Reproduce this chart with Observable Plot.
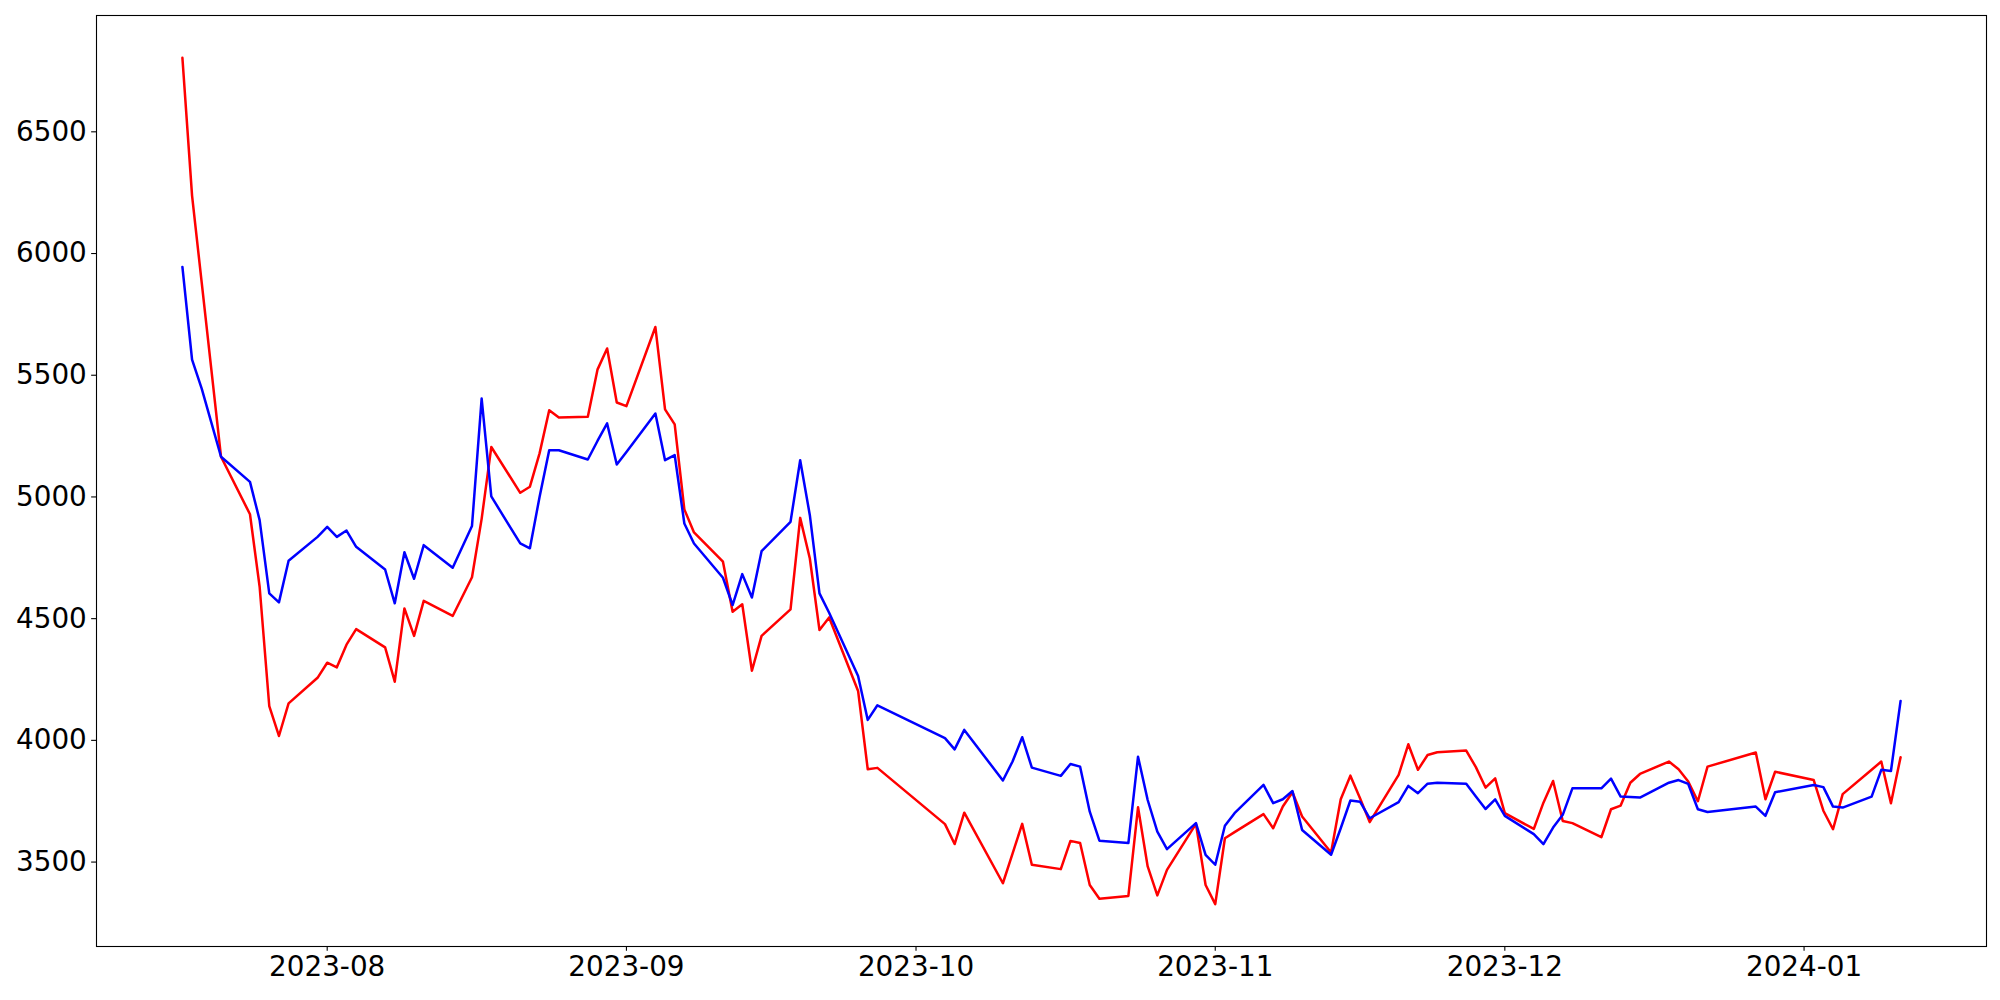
<!DOCTYPE html>
<html><head><meta charset="utf-8">
<script src="https://cdn.jsdelivr.net/npm/d3@7"></script>
<script src="https://cdn.jsdelivr.net/npm/@observablehq/plot@0.6"></script>
<style>html,body{margin:0;padding:0;background:#fff}</style>
</head><body><div id="chart"></div>
<script>
const dates = [
"2023-07-17","2023-07-18","2023-07-19","2023-07-20","2023-07-21","2023-07-24","2023-07-25","2023-07-26","2023-07-27","2023-07-28",
"2023-07-31","2023-08-01","2023-08-02","2023-08-03","2023-08-04","2023-08-07","2023-08-08","2023-08-09","2023-08-10","2023-08-11",
"2023-08-14","2023-08-16","2023-08-17","2023-08-18","2023-08-21","2023-08-22","2023-08-23","2023-08-24","2023-08-25","2023-08-28",
"2023-08-29","2023-08-30","2023-08-31","2023-09-01","2023-09-04","2023-09-05","2023-09-06","2023-09-07","2023-09-08","2023-09-11",
"2023-09-12","2023-09-13","2023-09-14","2023-09-15","2023-09-18","2023-09-19","2023-09-20","2023-09-21","2023-09-22","2023-09-25",
"2023-09-26","2023-09-27","2023-10-04","2023-10-05","2023-10-06","2023-10-10","2023-10-11","2023-10-12","2023-10-13","2023-10-16",
"2023-10-17","2023-10-18","2023-10-19","2023-10-20","2023-10-23","2023-10-24","2023-10-25","2023-10-26","2023-10-27","2023-10-30",
"2023-10-31","2023-11-01","2023-11-02","2023-11-03","2023-11-06","2023-11-07","2023-11-08","2023-11-09","2023-11-10","2023-11-13",
"2023-11-14","2023-11-15","2023-11-16","2023-11-17","2023-11-20","2023-11-21","2023-11-22","2023-11-23","2023-11-24","2023-11-27",
"2023-11-28","2023-11-29","2023-11-30","2023-12-01","2023-12-04","2023-12-05","2023-12-06","2023-12-07","2023-12-08","2023-12-11",
"2023-12-12","2023-12-13","2023-12-14","2023-12-15","2023-12-18","2023-12-19","2023-12-20","2023-12-21","2023-12-22","2023-12-27",
"2023-12-28","2023-12-29","2024-01-02","2024-01-03","2024-01-04","2024-01-05","2024-01-08","2024-01-09","2024-01-10","2024-01-11"
];
const redValues = [
6804,6238,5880,5523,5165,4929,4631,4141,4018,4152,
4257,4319,4300,4393,4457,4382,4241,4542,4429,4573,
4511,4670,4910,5205,5017,5042,5179,5356,5326,5329,
5523,5610,5388,5373,5698,5360,5298,4949,4854,4734,
4528,4559,4286,4429,4538,4914,4747,4453,4505,4203,
3881,3887,3656,3574,3703,3413,3535,3657,3489,3471,
3587,3578,3406,3349,3361,3725,3482,3363,3468,3657,
3406,3327,3598,3623,3697,3639,3728,3787,3687,3539,
3758,3855,3762,3664,3858,3984,3879,3940,3951,3958,
3890,3806,3844,3701,3636,3744,3833,3669,3660,3602,
3717,3732,3826,3862,3913,3881,3831,3750,3892,3950,
3758,3871,3837,3711,3635,3779,3879,3913,3742,3931
];
const blueValues = [
5945,5564,5445,5305,5165,5062,4905,4604,4567,4738,
4836,4877,4836,4862,4795,4702,4563,4773,4664,4802,
4709,4881,5404,5002,4809,4789,5000,5192,5192,5154,
5230,5302,5133,5185,5343,5151,5172,4891,4809,4668,
4556,4683,4587,4777,4898,5151,4925,4604,4524,4264,
4084,4144,4009,3963,4043,3835,3913,4013,3888,3854,
3903,3892,3707,3588,3578,3933,3755,3625,3553,3660,
3530,3489,3649,3701,3817,3742,3758,3792,3632,3530,
3639,3753,3748,3680,3746,3813,3783,3822,3826,3822,
3769,3718,3758,3690,3615,3574,3642,3694,3803,3803,
3843,3769,3767,3765,3826,3837,3821,3717,3706,3728,
3690,3787,3817,3808,3728,3724,3769,3879,3874,4162
];
const xTickDates = ["2023-08-01","2023-09-01","2023-10-01","2023-11-01","2023-12-01","2024-01-01"];
const yTicks = [3500,4000,4500,5000,5500,6000,6500];

const parse = d3.utcParse("%Y-%m-%d");
const red = dates.map((d, i) => ({date: parse(d), value: redValues[i]}));
const blue = dates.map((d, i) => ({date: parse(d), value: blueValues[i]}));

const [x0, x1] = d3.extent(red, d => d.date);
const xPad = (x1 - x0) * 0.05;
const allVals = redValues.concat(blueValues);
const [y0, y1] = d3.extent(allVals);
const yPad = (y1 - y0) * 0.05;

const fs = 27.8;
const chart = Plot.plot({
  width: 2000,
  height: 1000,
  marginLeft: 96,
  marginRight: 14,
  marginTop: 15,
  marginBottom: 54,
  style: {fontFamily: "'DejaVu Sans', sans-serif", fontSize: fs + "px", background: "white", color: "black", overflow: "visible"},
  x: {type: "utc", domain: [new Date(+x0 - xPad), new Date(+x1 + xPad)]},
  y: {domain: [y0 - yPad, y1 + yPad]},
  marks: [
    Plot.axisX({ticks: xTickDates.map(parse), tickFormat: d3.utcFormat("%Y-%m"), tickSize: 4.86, tickPadding: 4.86, strokeWidth: 1.1, label: null, fontSize: fs}),
    Plot.axisY({ticks: yTicks, tickFormat: d3.format("d"), tickSize: 4.86, tickPadding: 4.86, strokeWidth: 1.1, label: null, fontSize: fs}),
    Plot.lineY(red, {x: "date", y: "value", stroke: "red", strokeWidth: 2.5}),
    Plot.lineY(blue, {x: "date", y: "value", stroke: "blue", strokeWidth: 2.5}),
    Plot.frame({stroke: "black", strokeWidth: 1.1})
  ]
});
document.getElementById("chart").appendChild(chart);
</script>
</body></html>
